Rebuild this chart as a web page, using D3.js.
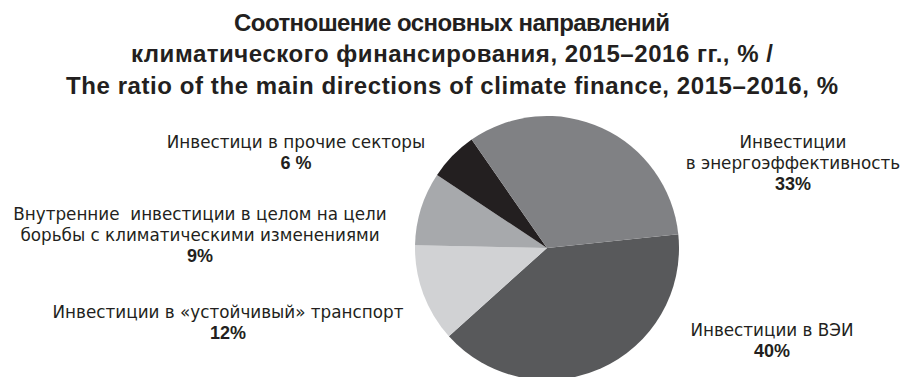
<!DOCTYPE html>
<html>
<head>
<meta charset="utf-8">
<script src="https://cdn.jsdelivr.net/npm/d3@7"></script>
<style>
  body { margin: 0; background: #fff; }
  svg { display: block; }
  text { white-space: pre; }
</style>
</head>
<body>
<div id="chart"></div>
<script>
// chart data
var titleLines = [
  "Соотношение основных направлений",
  "климатического финансирования, 2015–2016 гг., % /",
  "The ratio of the main directions of climate finance, 2015–2016, %"
];
var categories = [
  ["Инвестиции в ВЭИ"],
  ["Инвестиции в «устойчивый» транспорт"],
  ["Внутренние  инвестиции в целом на цели", "борьбы с климатическими изменениями"],
  ["Инвестици в прочие секторы"],
  ["Инвестиции", "в энергоэффективность"]
];
var values = [40, 12, 9, 6, 33];
var valueLabels = ["40%", "12%", "9%", "6 %", "33%"];
var colors = ["#58595b", "#d1d2d4", "#a7a9ac", "#231f20", "#808184"];

var width = 904, height = 377;
var cx = 547, cy = 248, radius = 132;

var svg = d3.select("#chart").append("svg")
    .attr("width", width)
    .attr("height", height);

// title - widths follow the original lines
var titleY = [31, 62, 94];
var titleW = [436, 642, 772];
svg.append("g").selectAll("text")
    .data(titleLines)
    .enter().append("text")
    .attr("x", 452)
    .attr("y", function(d, i) { return titleY[i]; })
    .attr("text-anchor", "middle")
    .attr("textLength", function(d, i) { return titleW[i]; })
    .attr("lengthAdjust", "spacing")
    .style("font-family", "'Liberation Sans', Arial, sans-serif")
    .style("font-weight", "bold")
    .style("font-size", "24px")
    .style("fill", "#231f20")
    .text(function(d) { return d; });

// pie
var pie = d3.pie().sort(null)
    .startAngle(84 * Math.PI / 180)
    .endAngle(444 * Math.PI / 180);
var arc = d3.arc().innerRadius(0).outerRadius(radius);

var g = svg.append("g").attr("transform", "translate(" + cx + "," + cy + ")");
g.selectAll("path")
    .data(pie(values))
    .enter().append("path")
    .attr("d", arc)
    .attr("fill", function(d, i) { return colors[i]; });

// labels, anchored by their centre x and the baseline of the first line
var labelPos = [[772, 336], [228, 318], [200, 220], [296, 148], [793, 148]];

var labels = svg.append("g").selectAll("g")
    .data(categories)
    .enter().append("g");

labels.each(function(lines, i) {
  var el = d3.select(this);
  var x = labelPos[i][0], y = labelPos[i][1];
  lines.forEach(function(line, j) {
    el.append("text")
      .attr("x", x)
      .attr("y", y + j * 21)
      .attr("text-anchor", "middle")
      .style("font-family", "'DejaVu Sans', sans-serif")
      .style("font-size", "16.8px")
      .style("fill", "#231f20")
      .text(line);
  });
  el.append("text")
    .attr("x", x)
    .attr("y", y + lines.length * 21)
    .attr("text-anchor", "middle")
    .style("font-family", "'Liberation Sans', Arial, sans-serif")
    .style("font-weight", "bold")
    .style("font-size", "18px")
    .style("fill", "#231f20")
    .text(valueLabels[i]);
});
</script>
</body>
</html>
